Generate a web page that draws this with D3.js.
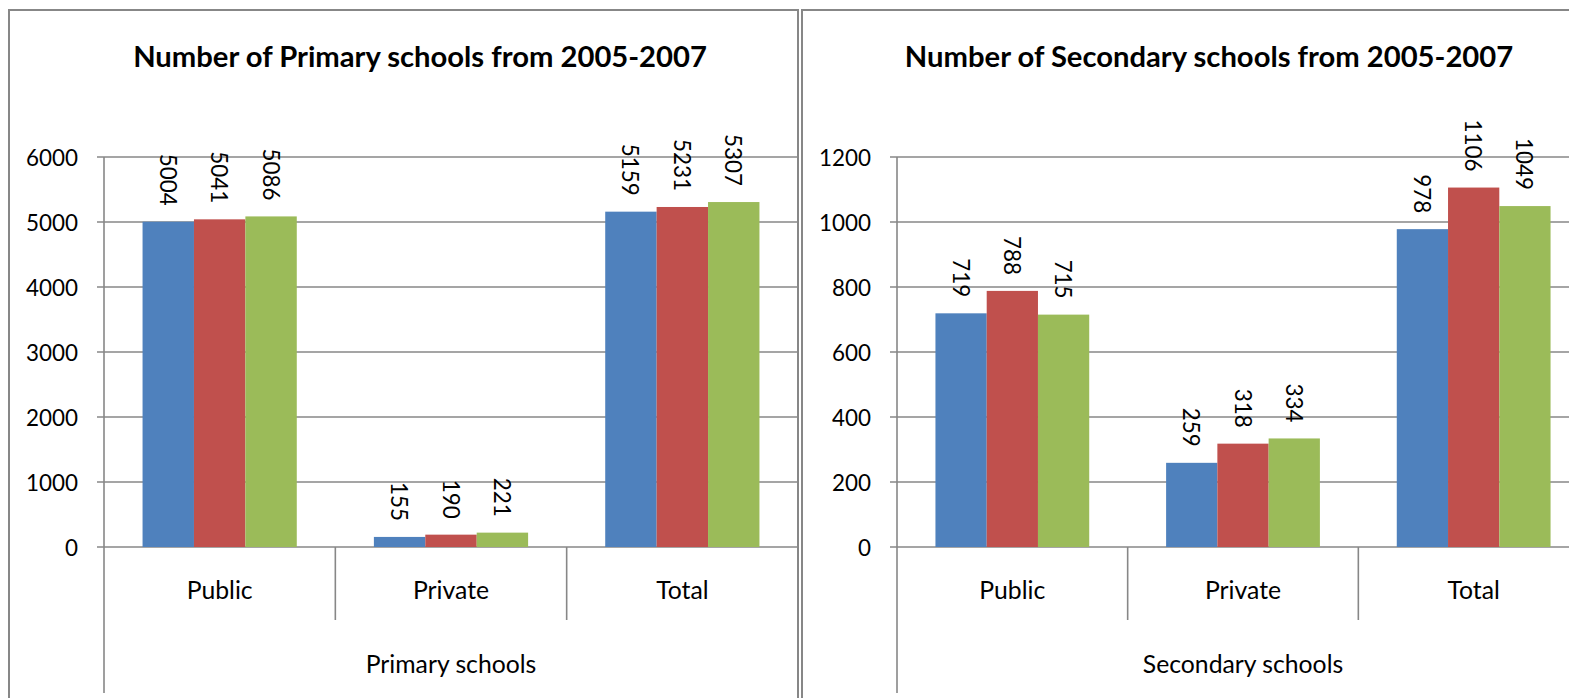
<!DOCTYPE html>
<html>
<head>
<meta charset="utf-8">
<script src="https://cdn.jsdelivr.net/npm/d3@7"></script>
<style>
  html, body { margin: 0; padding: 0; background: #fff; }
  svg { display: block; font-family: Lato, "Open Sans", sans-serif; }
</style>
</head>
<body>
<svg id="chart" width="1569" height="698"></svg>
<script>
// ---- data ----
const categories = ["Public", "Private", "Total"];
const years = ["2005", "2006", "2007"];
const seriesColors = ["#4F81BD", "#C0504D", "#9BBB59"];

const primary2005 = [5004, 155, 5159];
const primary2006 = [5041, 190, 5231];
const primary2007 = [5086, 221, 5307];
const primaryTicks = [0, 1000, 2000, 3000, 4000, 5000, 6000];

const secondary2005 = [719, 259, 978];
const secondary2006 = [788, 318, 1106];
const secondary2007 = [715, 334, 1049];
const secondaryTicks = [0, 200, 400, 600, 800, 1000, 1200];

const primaryTitle = "Number of Primary schools from 2005-2007";
const secondaryTitle = "Number of Secondary schools from 2005-2007";
const primaryGroup = "Primary schools";
const secondaryGroup = "Secondary schools";

// ---- drawing ----
const svg = d3.select("#chart");
const gridColor = "#878787";

// frames
svg.append("rect").attr("x", 9).attr("y", 10).attr("width", 789).attr("height", 720)
  .attr("fill", "none").attr("stroke", gridColor).attr("stroke-width", 2);
svg.append("rect").attr("x", 802).attr("y", 10).attr("width", 789).attr("height", 720)
  .attr("fill", "none").attr("stroke", gridColor).attr("stroke-width", 2);

function fitSize(text, weight, target, base) {
  const t = svg.append("text").attr("font-size", base).attr("font-weight", weight).text(text);
  const w = t.node().getComputedTextLength();
  t.remove();
  return base * target / w;
}

const titleSize = fitSize(primaryTitle, "bold", 574, 26);
const tickSize = fitSize("6000", "normal", 52, 22);
const catSize = fitSize("Public", "normal", 66, 22);

function drawChart(opts) {
  const g = svg.append("g");
  const { axisX, plotRight, yTop, y0, ticks, series, title, titleX, groupLabel } = opts;

  const y = d3.scaleLinear().domain([0, ticks[ticks.length - 1]]).range([y0, yTop]);
  const x = d3.scaleBand().domain(categories).range([axisX, plotRight]).padding(0);
  const bw = x.bandwidth();
  const xs = d3.scaleBand().domain(years).range([bw / 6, bw * 5 / 6]).padding(0);

  // gridlines
  g.append("g").selectAll("line").data(ticks).join("line")
    .attr("x1", axisX - 7).attr("x2", Math.min(plotRight, 1569))
    .attr("y1", d => y(d)).attr("y2", d => y(d))
    .attr("stroke", gridColor).attr("stroke-width", 1.6);

  // y axis line (extends down through category area)
  g.append("line").attr("x1", axisX).attr("x2", axisX).attr("y1", yTop).attr("y2", 693)
    .attr("stroke", gridColor).attr("stroke-width", 1.6);

  // category separators
  const bounds = categories.map(c => x(c)).concat([plotRight]).slice(1);
  g.append("g").selectAll("line").data(bounds).join("line")
    .attr("x1", d => d).attr("x2", d => d).attr("y1", y0).attr("y2", 620)
    .attr("stroke", gridColor).attr("stroke-width", 1.6);

  // tick labels
  g.append("g").selectAll("text").data(ticks).join("text")
    .attr("x", axisX - 26).attr("y", d => y(d))
    .attr("text-anchor", "end").attr("dominant-baseline", "central")
    .attr("font-size", tickSize).attr("fill", "#000").text(d => d);

  // bars
  const barData = [];
  series.forEach((vals, si) => vals.forEach((v, ci) => barData.push({ yr: years[si], si, cat: categories[ci], v })));
  g.append("g").selectAll("rect").data(barData).join("rect")
    .attr("x", d => x(d.cat) + xs(d.yr))
    .attr("width", xs.bandwidth())
    .attr("y", d => y(d.v))
    .attr("height", d => y0 - y(d.v))
    .attr("fill", d => seriesColors[d.si]);

  // value labels (rotated)
  g.append("g").selectAll("text").data(barData).join("text")
    .attr("transform", d => `translate(${x(d.cat) + xs(d.yr) + xs.bandwidth() / 2},${y(d.v) - 16}) rotate(90)`)
    .attr("text-anchor", "end").attr("dominant-baseline", "central")
    .attr("font-size", tickSize).attr("fill", "#000").text(d => d.v);

  // category labels
  g.append("g").selectAll("text").data(categories).join("text")
    .attr("x", d => x(d) + bw / 2).attr("y", 589)
    .attr("text-anchor", "middle").attr("dominant-baseline", "central")
    .attr("font-size", catSize).attr("fill", "#000").text(d => d);

  // group label
  g.append("text").attr("x", (axisX + plotRight) / 2).attr("y", 663)
    .attr("text-anchor", "middle").attr("dominant-baseline", "central")
    .attr("font-size", catSize).attr("fill", "#000").text(groupLabel);

  // title
  g.append("text").attr("x", titleX).attr("y", 67)
    .attr("text-anchor", "middle")
    .attr("font-size", titleSize).attr("font-weight", "bold").attr("fill", "#000").text(title);
}

drawChart({
  axisX: 104, plotRight: 798, yTop: 157, y0: 547,
  ticks: primaryTicks,
  series: [primary2005, primary2006, primary2007],
  title: primaryTitle, titleX: 420, groupLabel: primaryGroup
});

drawChart({
  axisX: 897, plotRight: 1589, yTop: 157, y0: 547,
  ticks: secondaryTicks,
  series: [secondary2005, secondary2006, secondary2007],
  title: secondaryTitle, titleX: 1209, groupLabel: secondaryGroup
});
</script>
</body>
</html>
